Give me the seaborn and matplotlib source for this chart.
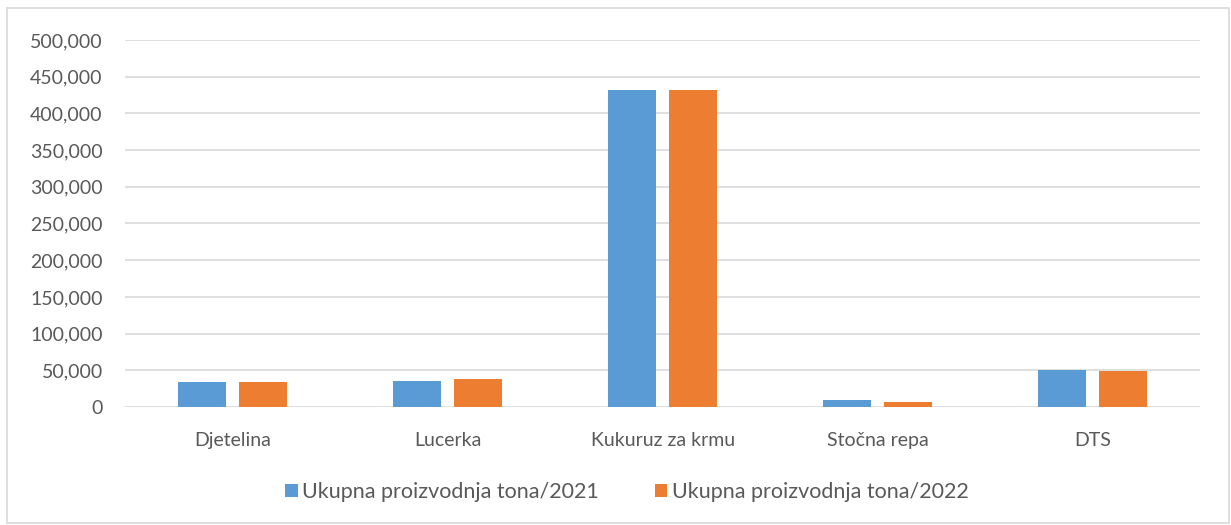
import pandas as pd
import matplotlib.pyplot as plt
import seaborn as sns
from matplotlib.patches import Rectangle
from matplotlib.ticker import FuncFormatter

categories = ["Djetelina", "Lucerka", "Kukuruz za krmu", "Stočna repa", "DTS"]
series_names = ["Ukupna proizvodnja tona/2021", "Ukupna proizvodnja tona/2022"]
values_2021 = [34200, 35900, 431300, 8900, 51000]
values_2022 = [34200, 37700, 431300, 6200, 48600]

df = pd.DataFrame({
    "Kultura": categories * 2,
    "Serija": [series_names[0]] * 5 + [series_names[1]] * 5,
    "Vrijednost": values_2021 + values_2022,
})

sns.set_style("white")
plt.rcParams['font.family'] = ['Lato', 'DejaVu Sans']

fig = plt.figure(figsize=(12.31, 5.25), dpi=100)
ax = fig.add_axes([0.1015, 0.2248, 0.8735, 0.699])

sns.barplot(data=df, x="Kultura", y="Vrijednost", hue="Serija",
            palette=["#5b9bd5", "#ed7d31"], saturation=1, width=0.567, gap=0.21,
            linewidth=0, ax=ax, legend=True)

ax.set_ylim(0, 500000)
ax.set_yticks(range(0, 500001, 50000))
ax.yaxis.set_major_formatter(FuncFormatter(lambda v, p: "0" if v == 0 else f"{int(v):,}"))
ax.grid(axis="y", color="#d9d9d9", linewidth=1.2)
ax.set_axisbelow(True)
for s in ax.spines.values():
    s.set_visible(False)
ax.tick_params(axis="both", length=0, labelsize=14, colors="#595959")
ax.tick_params(axis="x", pad=18)
ax.tick_params(axis="y", pad=16)
ax.set_xlabel("")
ax.set_ylabel("")

ax.legend(loc="center", bbox_to_anchor=(0.509, 0.063), bbox_transform=fig.transFigure,
          ncol=2, frameon=False, fontsize=15.5, handlelength=0.6, handleheight=0.6,
          handletextpad=0.2, columnspacing=2.6, labelcolor="#595959")

fig.patches.append(Rectangle((0.006, 0.003), 0.992, 0.982, transform=fig.transFigure,
                             fill=False, edgecolor="#d9d9d9", linewidth=1.2))

fig.savefig("out.png", dpi=100)
